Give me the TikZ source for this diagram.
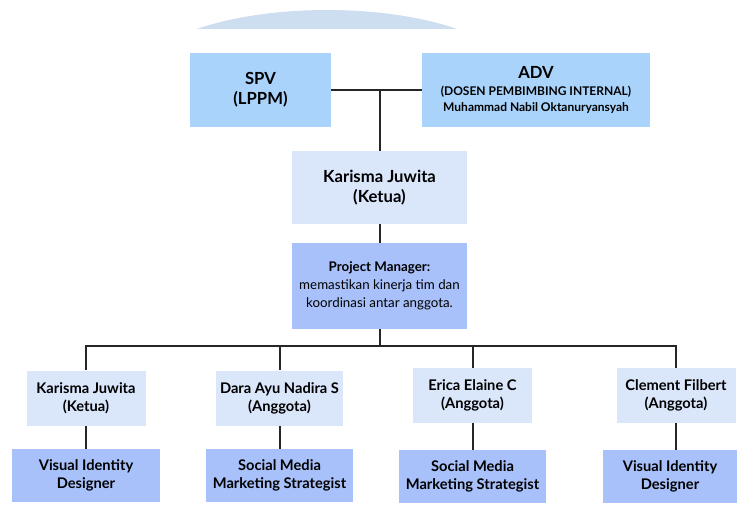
\documentclass[tikz,border=0pt]{standalone}
\usepackage{fontspec}
\setmainfont{Lato}
\usepackage{tikz}

\definecolor{archue}{HTML}{CCDEF0}
\definecolor{skyblue}{HTML}{A9D3FA}
\definecolor{paleblue}{HTML}{DAE6FA}
\definecolor{roleblue}{HTML}{A9C1FA}

\begin{document}
\begin{tikzpicture}[x=0.75pt,y=-0.75pt]

\tikzstyle{every node}=[align=center, inner sep=0pt, font=\bfseries]
\tikzstyle{box}=[minimum width=#1*0.75pt]
\tikzstyle{link}=[line width=1.5pt, black!85]

\useasboundingbox (0,0) rectangle (737,518);

% arc at the top
\begin{scope}
\clip (150,0) rectangle (500,28);
\fill[archue] (327,80) ellipse [x radius=190, y radius=70];
\end{scope}

\pgfmathsetmacro\y{90}

\node[fill=skyblue, box=141, minimum height=74*0.75pt,
  font=\bfseries\fontsize{12.5}{15}\selectfont] (spv) at (260.5,\y) {SPV\\(LPPM)};

\node[fill=skyblue, box=228, minimum height=74*0.75pt] (adv) at (536,\y)
{{\fontsize{12.5}{13.5}\selectfont ADV}\\[1pt]
 {\fontsize{9}{13.5}\selectfont (DOSEN PEMBIMBING INTERNAL)}\\
 {\fontsize{9}{13.5}\selectfont Muhammad Nabil Oktanuryansyah}};

\pgfmathsetmacro\y{187.5}
\node[fill=paleblue, box=175, minimum height=73*0.75pt,
  font=\bfseries\fontsize{12.5}{15}\selectfont] (ketua) at (379.5,\y) {Karisma Juwita\\(Ketua)};

\coordinate (advisor_joint) at (ketua.north |- spv.east);
\draw[link] (spv.east) -- (adv.west);
\draw[link] (advisor_joint) -- (ketua);

\pgfmathsetmacro\y{286}
\node[fill=roleblue, box=175, minimum height=86*0.75pt,
  font=\fontsize{10}{13.5}\selectfont] (pm) at (379.5,\y)
{\textbf{Project Manager:}\\ \mdseries memastikan kinerja tim dan\\ \mdseries koordinasi antar anggota.};

\draw[link] (ketua) -- (pm);

% members
\tikzstyle{member}=[fill=paleblue, minimum height=55*0.75pt, font=\bfseries\fontsize{11}{13.5}\selectfont]
\tikzstyle{role}=[fill=roleblue, minimum height=53*0.75pt, font=\bfseries\fontsize{11}{13.5}\selectfont]

\node[member, box=119] (member_a) at (86,398) {Karisma Juwita\\(Ketua)};
\node[member, box=127] (member_b) at (279.5,398) {Dara Ayu Nadira S\\(Anggota)};
\node[member, box=119] (member_c) at (472.5,395.5) {Erica Elaine C\\(Anggota)};
\node[member, box=119] (member_d) at (676,395.5) {Clement Filbert\\(Anggota)};

\node[role, box=148] (role_a) at (86,475.5) {Visual Identity\\Designer};
\node[role, box=147] (role_b) at (279.5,475.5) {Social Media\\Marketing Strategist};
\node[role, box=147] (role_c) at (472.5,476.5) {Social Media\\Marketing Strategist};
\node[role, box=134] (role_d) at (670,476.5) {Visual Identity\\Designer};

\coordinate (bus) at (pm.south |- 0,346);
\draw[link] (pm) -- (bus);
\draw[link] (member_a.north) -- (member_a.north |- bus) -- (member_d.north |- bus) -- (member_d.north);
\draw[link] (member_b.north) -- (member_b.north |- bus);
\draw[link] (member_c.north) -- (member_c.north |- bus);

\draw[link] (member_a) -- (role_a);
\draw[link] (member_b) -- (role_b);
\draw[link] (member_c) -- (role_c);
\draw[link] (member_d.south) -- (member_d.south |- role_d.north);

\end{tikzpicture}
\end{document}
